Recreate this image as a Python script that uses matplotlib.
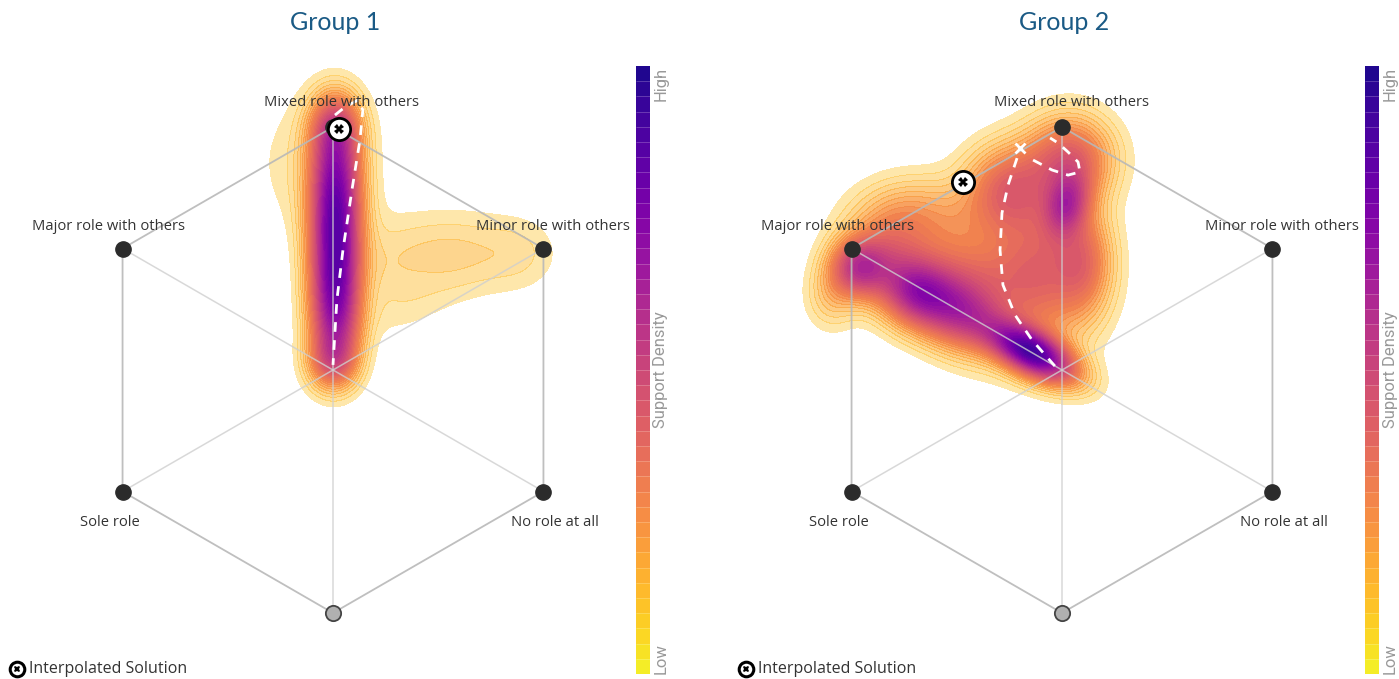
import numpy as np
import matplotlib
matplotlib.use("Agg")
import matplotlib.pyplot as plt
from matplotlib.colors import ListedColormap
import matplotlib.colorbar as mcolorbar

# hexagon corners (unit radius), label, label offset in px
corner_names = ["Mixed role with others", "Minor role with others", "No role at all",
                "", "Sole role", "Major role with others"]
corner_angles = [90, 30, -30, -90, -150, 150]
label_dx = [9, 9, 11, 0, -13, -14]
label_dy = [24, 22, -31, 0, -31, 22]

# density components per group: x, y, sx, sy, angle, weight
g1_x = [0.01, 0.01, 0.01, 0.01, 0.01, 0.0, -0.07, 0.48, 0.78, 0.30, 0.22]
g1_y = [1.00, 0.80, 0.60, 0.40, 0.20, 0.03, 0.85, 0.48, 0.48, 0.25, 0.40]
g1_sx = [0.07, 0.07, 0.07, 0.07, 0.07, 0.07, 0.17, 0.22, 0.10, 0.15, 0.10]
g1_sy = [0.10, 0.12, 0.12, 0.12, 0.12, 0.08, 0.20, 0.12, 0.10, 0.08, 0.12]
g1_ang = [0, 0, 0, 0, 0, 0, 0, 0, 0, 20, 0]
g1_w = [0.75, 0.9, 1.0, 1.0, 0.9, 0.55, 0.10, 0.16, 0.06, 0.05, 0.05]

g2_x = [-0.12, -0.42, -0.60, -0.84, 0.02, -0.10, 0.03, -0.22, -0.45, -0.72, -0.40, 0.09, -0.95,
        -0.65, -0.50]
g2_y = [0.07, 0.24, 0.32, 0.42, 0.68, 0.40, 0.87, 0.75, 0.60, 0.46, 0.40, 0.45, 0.30,
        0.66, 0.15]
g2_sx = [0.13, 0.13, 0.10, 0.08, 0.06, 0.15, 0.12, 0.12, 0.16, 0.12, 0.15, 0.08, 0.07,
         0.15, 0.18]
g2_sy = [0.06, 0.09, 0.09, 0.08, 0.09, 0.20, 0.12, 0.12, 0.10, 0.12, 0.10, 0.15, 0.09,
         0.10, 0.08]
g2_ang = [-28, -28, -28, 0, -15, 0, 0, 0, 0, 0, -20, 0, 0, 10, -28]
g2_w = [0.8, 0.45, 0.42, 0.4, 0.36, 0.33, 0.35, 0.3, 0.1, 0.25, 0.2, 0.22, 0.1,
        0.12, 0.06]

peak_value = [0.85, 0.9]

# dashed solution paths
g1_path_x = [0.008, 0.049, 0.103, 0.123, 0.111, 0.078, 0.041, 0.016, 0.0]
g1_path_y = [1.049, 1.082, 1.111, 1.070, 0.947, 0.741, 0.494, 0.288, 0.021]
g2_path_x = [-0.185, -0.222, -0.247, -0.255, -0.243, -0.193, -0.123, -0.058, -0.008]
g2_path_y = [0.872, 0.761, 0.646, 0.494, 0.350, 0.226, 0.123, 0.049, -0.008]
g2_loop_x = [-0.119, -0.041, 0.025, 0.074, 0.066, 0.025, -0.016, -0.049]
g2_loop_y = [0.864, 0.823, 0.802, 0.815, 0.856, 0.897, 0.934, 0.955]
g2_start = (-0.173, 0.914)

solution = [(0.025, 0.99), (-0.407, 0.774)]
titles = ["Group 1", "Group 2"]

W, H = 1399, 679
PX = 243.0  # pixels per unit


def density(X, Y, xs, ys, sxs, sys_, angs, ws):
    Z = np.zeros_like(X)
    for x0, y0, sx, sy, a, w in zip(xs, ys, sxs, sys_, angs, ws):
        t = np.deg2rad(a)
        dx = X - x0
        dy = Y - y0
        u = dx * np.cos(t) + dy * np.sin(t)
        v = -dx * np.sin(t) + dy * np.cos(t)
        Z += w * np.exp(-0.5 * ((u / sx) ** 2 + (v / sy) ** 2))
    return Z


fig = plt.figure(figsize=(W / 100, H / 100), dpi=100)
plasma = plt.get_cmap("plasma_r")

levels = np.linspace(0.03, 1.0, 40)
fill_colors = []
for lv in levels[:-1]:
    r, g, b, _ = plasma(0.1 + 0.9 * lv)
    fill_colors.append((r, g, b, min(1.0, 0.3 + lv * 3.0)))

groups = [
    (g1_x, g1_y, g1_sx, g1_sy, g1_ang, g1_w),
    (g2_x, g2_y, g2_sx, g2_sy, g2_ang, g2_w),
]
offsets = [0, 729]

xs = np.linspace(-1.4, 1.3, 500)
ys = np.linspace(-1.3, 1.3, 500)
X, Y = np.meshgrid(xs, ys)

for i in range(2):
    off = offsets[i]
    cx = off + 333
    ax = fig.add_axes([off / W, 0, 630 / W, 619 / H])
    ax.set_xlim(-333 / PX, 297 / PX)
    ax.set_ylim(-309 / PX, 310 / PX)
    ax.axis("off")

    Z = density(X, Y, *groups[i])
    Z = Z / Z.max() * peak_value[i]
    ax.contourf(X, Y, Z, levels=levels, colors=fill_colors, zorder=1)

    cx_ = [np.cos(np.deg2rad(a)) for a in corner_angles]
    cy_ = [np.sin(np.deg2rad(a)) for a in corner_angles]
    # spokes
    for k in range(3):
        ax.plot([cx_[k], cx_[k + 3]], [cy_[k], cy_[k + 3]], color="#cfcfcf",
                lw=1.1, alpha=0.8, zorder=2)
    # outline
    ax.plot(cx_ + [cx_[0]], cy_ + [cy_[0]], color="#b8b8b8", lw=1.3, alpha=0.9, zorder=2)

    for k in range(6):
        if k == 3:
            ax.plot(cx_[k], cy_[k], "o", ms=11, mfc="#b0b0b0", mec="#444444", mew=1.3, zorder=4)
            continue
        ax.plot(cx_[k], cy_[k], "o", ms=11, color="#2b2b2b", zorder=4)
        ax.text(cx_[k] + label_dx[k] / PX, cy_[k] + label_dy[k] / PX, corner_names[k],
                ha="center", va="center", fontsize=10.6, family="Open Sans",
                color="#333333", zorder=5)

    if i == 0:
        ax.plot(g1_path_x, g1_path_y, color="white", lw=2, ls=(0, (3.5, 3)), zorder=3)
    else:
        ax.plot(g2_path_x, g2_path_y, color="white", lw=2, ls=(0, (3.5, 3)), zorder=3)
        ax.plot(g2_loop_x, g2_loop_y, color="white", lw=2, ls=(0, (3.5, 3)), zorder=3)
        ax.plot(*g2_start, marker="x", ms=7, mew=2, color="white", zorder=3)

    sx, sy = solution[i]
    ax.plot(sx, sy, "o", ms=16, mfc="white", mec="black", mew=2, zorder=6)
    ax.plot(sx, sy, "X", ms=7, color="black", mew=0, zorder=7)

    fig.text((cx + 2) / W, 1 - 22 / H, titles[i], ha="center", va="center",
             fontsize=18, family="Lato", color="#1a5a85")

    # legend
    lax = fig.add_axes([(off + 8) / W, 1 - 678 / H, 18 / W, 18 / H])
    lax.set_xlim(-1, 1)
    lax.set_ylim(-1, 1)
    lax.axis("off")
    lax.plot(0, 0, "o", ms=10.5, mfc="white", mec="black", mew=2.2)
    lax.plot(0, 0, "X", ms=5, color="black", mew=0)
    fig.text((off + 29) / W, 1 - 669 / H, "Interpolated Solution", ha="left",
             va="center", fontsize=11.5, family="Open Sans", color="#333333")

    # colour bar
    cax = fig.add_axes([(off + 636) / W, 1 - 674 / H, 14 / W, 608 / H])
    bar_cmap = ListedColormap([plasma(v) for v in np.linspace(0.03, 0.97, 40)])
    cb = mcolorbar.ColorbarBase(cax, cmap=bar_cmap, orientation="vertical", drawedges=True)
    cb.outline.set_visible(False)
    cb.dividers.set_color((1, 1, 1, 0.25))
    cb.dividers.set_linewidth(0.6)
    cb.set_ticks([])
    for txt, py in [("High", 84), ("Support Density", 370), ("Low", 659)]:
        fig.text((off + 661) / W, 1 - py / H, txt, rotation=90, ha="center", va="center",
                 fontsize=12, family="Roboto", color="#999999")

fig.savefig("out.png", dpi=100)
